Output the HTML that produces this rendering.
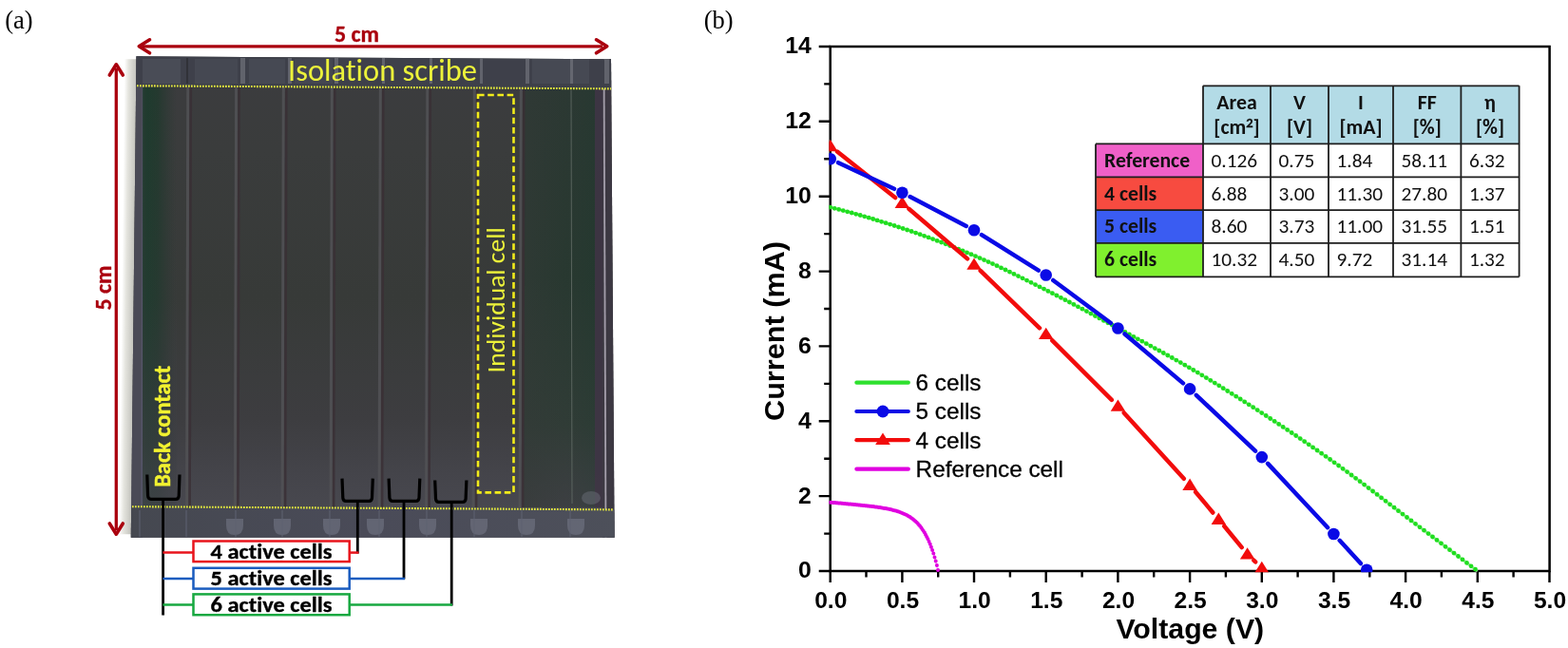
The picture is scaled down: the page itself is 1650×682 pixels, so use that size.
<!DOCTYPE html><html><head><meta charset="utf-8"><title>Figure</title><style>
html,body{margin:0;padding:0;background:#fff;width:1650px;height:682px;overflow:hidden}
svg{display:block} text{font-variant-ligatures:none;font-kerning:normal}
</style></head><body>
<svg width="1650" height="682" viewBox="0 0 1650 682">
<rect width="1650" height="682" fill="#fff"/>
<defs>
<linearGradient id="shadowL" x1="0" x2="1" y1="0" y2="0"><stop offset="0" stop-color="#ffffff"/><stop offset="0.35" stop-color="#e4e4de"/><stop offset="1" stop-color="#c2c2bc"/></linearGradient>
<linearGradient id="greenL" x1="0" x2="1" y1="0" y2="0"><stop offset="0" stop-color="#2e3a34" stop-opacity="0"/><stop offset="0.25" stop-color="#26382e" stop-opacity="0.9"/><stop offset="0.7" stop-color="#2a3630" stop-opacity="0.6"/><stop offset="1" stop-color="#2e3a34" stop-opacity="0"/></linearGradient>
<linearGradient id="greenR" x1="0" x2="1" y1="0" y2="0"><stop offset="0" stop-color="#2c3a33" stop-opacity="0"/><stop offset="0.5" stop-color="#2a3a31" stop-opacity="0.7"/><stop offset="1" stop-color="#2c3a33" stop-opacity="0.2"/></linearGradient>
<linearGradient id="botStrip" x1="0" x2="1" y1="0" y2="0"><stop offset="0" stop-color="#454850"/><stop offset="0.5" stop-color="#4a4b58"/><stop offset="1" stop-color="#4d505a"/></linearGradient>
<linearGradient id="bodyV" x1="0" x2="0" y1="0" y2="1"><stop offset="0" stop-color="#3c3c3f"/><stop offset="0.2" stop-color="#3a3c3c"/><stop offset="0.5" stop-color="#373a38"/><stop offset="0.75" stop-color="#3d3d40"/><stop offset="0.86" stop-color="#44444a"/><stop offset="0.93" stop-color="#48484f"/><stop offset="1" stop-color="#4a4a52"/></linearGradient>
<linearGradient id="greenCol" x1="0" x2="0" y1="0" y2="1"><stop offset="0" stop-color="#243e31"/><stop offset="0.5" stop-color="#284034"/><stop offset="0.8" stop-color="#313e38"/><stop offset="1" stop-color="#3c4044"/></linearGradient>
<linearGradient id="greenRight" x1="0" x2="0" y1="0" y2="1"><stop offset="0" stop-color="#2a3832"/><stop offset="0.45" stop-color="#26382f"/><stop offset="0.8" stop-color="#2f3c36"/><stop offset="1" stop-color="#3e4044"/></linearGradient>
<linearGradient id="greenH" x1="0" x2="1" y1="0" y2="0"><stop offset="0" stop-color="#1f3b2e" stop-opacity="0.8"/><stop offset="0.15" stop-color="#1f3b2e" stop-opacity="1"/><stop offset="0.45" stop-color="#22392e" stop-opacity="0.9"/><stop offset="1" stop-color="#2a3832" stop-opacity="0"/></linearGradient>
<linearGradient id="fadeV" x1="0" x2="0" y1="0" y2="1"><stop offset="0" stop-color="#3c3d40" stop-opacity="0"/><stop offset="0.5" stop-color="#3c3d40" stop-opacity="0.1"/><stop offset="0.85" stop-color="#3e3f44" stop-opacity="0.6"/><stop offset="1" stop-color="#44454c" stop-opacity="0.8"/></linearGradient>
<linearGradient id="greenRH" x1="0" x2="1" y1="0" y2="0"><stop offset="0" stop-color="#353a38" stop-opacity="0.55"/><stop offset="0.6" stop-color="#353a38" stop-opacity="0.15"/><stop offset="1" stop-color="#1f3a30" stop-opacity="0.2"/></linearGradient>
<clipPath id="panelClip"><polygon points="143.5,59.3 643,62.2 646.6,565.7 137.8,565.7"/></clipPath>
</defs>
<g transform="translate(143.5 59.3) skewX(-0.645)"><rect x="-12.5" y="3" width="13" height="500" fill="url(#shadowL)"/></g>
<g clip-path="url(#panelClip)">
<rect x="130" y="55" width="525" height="515" fill="url(#bodyV)"/>
<rect x="130" y="55" width="20" height="515" fill="#4a4a56"/>
<line x1="150.5" y1="60" x2="149" y2="566" stroke="#56566a" stroke-width="1.5"/>
<rect x="150" y="92" width="36" height="442" fill="url(#greenH)"/>
<rect x="150" y="92" width="36" height="442" fill="url(#fadeV)"/>
<rect x="550" y="93" width="76" height="441" fill="url(#greenRight)"/>
<rect x="550" y="93" width="76" height="441" fill="url(#greenRH)"/>
<rect x="626" y="93" width="8.5" height="441" fill="#3d3444" opacity="0.9"/>
<rect x="634" y="55" width="20" height="515" fill="#3c3842"/>
<line x1="635.5" y1="62" x2="637.5" y2="566" stroke="#a49eab" stroke-width="1.8"/>
<line x1="601" y1="95" x2="602" y2="530" stroke="#66706a" stroke-width="1" opacity="0.8"/>
<polygon points="130,55 655,55 655,93.5 130,90.3" fill="#3e404a"/>
<rect x="150" y="62" width="40" height="26" fill="#6a6e7a" opacity="0.25"/>
<rect x="205" y="62" width="45" height="26" fill="#6a6e7a" opacity="0.18"/>
<rect x="262" y="62" width="38" height="26" fill="#6a6e7a" opacity="0.2"/>
<rect x="310" y="62" width="40" height="26" fill="#6a6e7a" opacity="0.15"/>
<rect x="560" y="62" width="60" height="26" fill="#6a6e7a" opacity="0.2"/>
<rect x="253" y="61" width="5" height="27" fill="#7a7c84" opacity="0.6"/>
<rect x="303" y="61" width="4" height="27" fill="#7a7c84" opacity="0.6"/>
<rect x="352" y="61" width="4" height="27" fill="#7a7c84" opacity="0.6"/>
<rect x="402" y="61" width="3" height="27" fill="#7a7c84" opacity="0.6"/>
<rect x="452" y="61" width="3" height="27" fill="#7a7c84" opacity="0.6"/>
<rect x="505" y="61" width="3" height="27" fill="#7a7c84" opacity="0.6"/>
<rect x="553" y="61" width="4" height="27" fill="#7a7c84" opacity="0.6"/>
<rect x="600" y="61" width="3" height="27" fill="#7a7c84" opacity="0.6"/>
<rect x="636" y="61" width="5" height="27" fill="#7a7c84" opacity="0.6"/>
<rect x="196" y="61" width="2" height="27" fill="#2c2c30" opacity="0.7"/>
<polygon points="130,533.5 655,536.5 655,570 130,570" fill="url(#botStrip)"/>
<path d="M238,546 h18 v7 q0,10 -9,10 q-9,0 -9,-10 z" fill="#737685" opacity="0.6"/>
<path d="M288,546 h18 v7 q0,10 -9,10 q-9,0 -9,-10 z" fill="#737685" opacity="0.6"/>
<path d="M340,546 h18 v7 q0,10 -9,10 q-9,0 -9,-10 z" fill="#737685" opacity="0.6"/>
<path d="M386,546 h18 v7 q0,10 -9,10 q-9,0 -9,-10 z" fill="#737685" opacity="0.6"/>
<path d="M441,546 h18 v7 q0,10 -9,10 q-9,0 -9,-10 z" fill="#737685" opacity="0.6"/>
<path d="M495,546 h18 v7 q0,10 -9,10 q-9,0 -9,-10 z" fill="#737685" opacity="0.6"/>
<path d="M545,546 h18 v7 q0,10 -9,10 q-9,0 -9,-10 z" fill="#737685" opacity="0.6"/>
<path d="M597,546 h18 v7 q0,10 -9,10 q-9,0 -9,-10 z" fill="#737685" opacity="0.6"/>
<line x1="147" y1="537" x2="147" y2="565" stroke="#5f6270" stroke-width="1.5" opacity="0.7"/>
<line x1="196" y1="537" x2="196" y2="565" stroke="#5f6270" stroke-width="1.5" opacity="0.7"/>
<line x1="248" y1="537" x2="248" y2="565" stroke="#5f6270" stroke-width="1.5" opacity="0.7"/>
<line x1="297" y1="537" x2="297" y2="565" stroke="#5f6270" stroke-width="1.5" opacity="0.7"/>
<line x1="347" y1="537" x2="347" y2="565" stroke="#5f6270" stroke-width="1.5" opacity="0.7"/>
<line x1="399" y1="537" x2="399" y2="565" stroke="#5f6270" stroke-width="1.5" opacity="0.7"/>
<line x1="449" y1="537" x2="449" y2="565" stroke="#5f6270" stroke-width="1.5" opacity="0.7"/>
<line x1="499" y1="537" x2="499" y2="565" stroke="#5f6270" stroke-width="1.5" opacity="0.7"/>
<line x1="549" y1="537" x2="549" y2="565" stroke="#5f6270" stroke-width="1.5" opacity="0.7"/>
<line x1="600" y1="537" x2="600" y2="565" stroke="#5f6270" stroke-width="1.5" opacity="0.7"/>
<ellipse cx="622" cy="524" rx="10" ry="7" fill="#6a6e78" opacity="0.5"/>
<line x1="197.8" y1="92" x2="196.6" y2="534" stroke="#515155" stroke-width="3" opacity="0.9"/>
<line x1="200.8" y1="92" x2="199.6" y2="534" stroke="#3a2f35" stroke-width="2.6" opacity="0.8"/>
<line x1="248.6" y1="92" x2="247.4" y2="534" stroke="#515155" stroke-width="3" opacity="0.9"/>
<line x1="251.6" y1="92" x2="250.4" y2="534" stroke="#3a2f35" stroke-width="2.6" opacity="0.8"/>
<line x1="298.3" y1="92" x2="297.1" y2="534" stroke="#515155" stroke-width="3" opacity="0.9"/>
<line x1="301.3" y1="92" x2="300.1" y2="534" stroke="#3a2f35" stroke-width="2.6" opacity="0.8"/>
<line x1="349.3" y1="92" x2="348.1" y2="534" stroke="#515155" stroke-width="3" opacity="0.9"/>
<line x1="352.3" y1="92" x2="351.1" y2="534" stroke="#3a2f35" stroke-width="2.6" opacity="0.8"/>
<line x1="400.3" y1="92" x2="399.1" y2="534" stroke="#515155" stroke-width="3" opacity="0.9"/>
<line x1="403.3" y1="92" x2="402.1" y2="534" stroke="#3a2f35" stroke-width="2.6" opacity="0.8"/>
<line x1="449.8" y1="92" x2="448.6" y2="534" stroke="#515155" stroke-width="3" opacity="0.9"/>
<line x1="452.8" y1="92" x2="451.6" y2="534" stroke="#3a2f35" stroke-width="2.6" opacity="0.8"/>
<line x1="499.3" y1="92" x2="498.1" y2="534" stroke="#515155" stroke-width="3" opacity="0.9"/>
<line x1="502.3" y1="92" x2="501.1" y2="534" stroke="#3a2f35" stroke-width="2.6" opacity="0.8"/>
<line x1="548.3" y1="92" x2="547.1" y2="534" stroke="#515155" stroke-width="3" opacity="0.9"/>
<line x1="551.3" y1="92" x2="550.1" y2="534" stroke="#3a2f35" stroke-width="2.6" opacity="0.8"/>
</g>
<line x1="144" y1="90.3" x2="643" y2="93.4" stroke="#e6ec3c" stroke-width="2.1" stroke-dasharray="1.7 1.3"/>
<line x1="139" y1="533.2" x2="646" y2="536.4" stroke="#e6ec3c" stroke-width="2.1" stroke-dasharray="1.7 1.3"/>
<rect x="503" y="100" width="37.5" height="418.4" fill="none" stroke="#f2ec1a" stroke-width="2.6" stroke-dasharray="6.6 3.6"/>
<text x="303" y="85" font-family="Carlito, Calibri, 'Liberation Sans', sans-serif" font-size="33" fill="#ecf23a" textLength="199" lengthAdjust="spacingAndGlyphs">Isolation scribe</text>
<text transform="translate(531,392.6) rotate(-90)" x="0" y="0" font-family="Carlito, Calibri, 'Liberation Sans', sans-serif" font-size="27.5" fill="#ecf23a" textLength="153.4" lengthAdjust="spacingAndGlyphs">Individual cell</text>
<text transform="translate(179,512.8) rotate(-90)" x="0" y="0" font-family="Carlito, Calibri, 'Liberation Sans', sans-serif" font-size="24.4" font-weight="bold" fill="#f2f230" stroke="#f2f230" stroke-width="0.4" textLength="128" lengthAdjust="spacingAndGlyphs">Back contact</text>
<line x1="150" y1="48.8" x2="634" y2="48.8" stroke="#aa000e" stroke-width="3.3"/>
<polyline points="157.5,41.8 146.3,48.8 157.5,55.8" fill="none" stroke="#aa000e" stroke-width="3.6" stroke-linecap="round" stroke-linejoin="round"/>
<polyline points="627.5,41.8 638.7,48.8 627.5,55.8" fill="none" stroke="#aa000e" stroke-width="3.6" stroke-linecap="round" stroke-linejoin="round"/>
<line x1="122.3" y1="72" x2="122.3" y2="558" stroke="#aa000e" stroke-width="3.3"/>
<polyline points="115.3,79 122.3,67.8 129.3,79" fill="none" stroke="#aa000e" stroke-width="3.6" stroke-linecap="round" stroke-linejoin="round"/>
<polyline points="115.3,551 122.3,562.2 129.3,551" fill="none" stroke="#aa000e" stroke-width="3.6" stroke-linecap="round" stroke-linejoin="round"/>
<text x="352" y="43.5" font-family="Carlito, Calibri, 'Liberation Sans', sans-serif" font-size="24" font-weight="bold" fill="#aa000e" stroke="#aa000e" stroke-width="0.35" textLength="47" lengthAdjust="spacingAndGlyphs">5 cm</text>
<text transform="translate(116.8,326.5) rotate(-90)" font-family="Carlito, Calibri, 'Liberation Sans', sans-serif" font-size="24" font-weight="bold" fill="#aa000e" stroke="#aa000e" stroke-width="0.35" textLength="47" lengthAdjust="spacingAndGlyphs">5 cm</text>
<path d="M154.8,499.5 L155.60000000000002,521.8 Q155.8,525.3 158.8,525.3 L185,525.3 Q188,525.3 188.2,521.8 L189,499.5" fill="none" stroke="#000" stroke-width="3.2" stroke-linejoin="round"/>
<path d="M360,503.6 L360.8,523.9 Q361,527.4 364,527.4 L388.3,527.4 Q391.3,527.4 391.5,523.9 L392.3,503.6" fill="none" stroke="#000" stroke-width="3.2" stroke-linejoin="round"/>
<path d="M409.1,503.6 L409.90000000000003,523.9 Q410.1,527.4 413.1,527.4 L437.8,527.4 Q440.8,527.4 441.0,523.9 L441.8,503.6" fill="none" stroke="#000" stroke-width="3.2" stroke-linejoin="round"/>
<path d="M457.7,505.5 L458.5,524.9 Q458.7,528.4 461.7,528.4 L486.9,528.4 Q489.9,528.4 490.09999999999997,524.9 L490.9,505.5" fill="none" stroke="#000" stroke-width="3.2" stroke-linejoin="round"/>
<line x1="171.6" y1="524" x2="171.6" y2="647.5" stroke="#000" stroke-width="2.8"/>
<line x1="376.3" y1="526.8" x2="376.3" y2="582.5" stroke="#000" stroke-width="2.8"/>
<line x1="425" y1="527.5" x2="425" y2="609.5" stroke="#000" stroke-width="2.8"/>
<line x1="475.2" y1="529.5" x2="475.2" y2="637.5" stroke="#000" stroke-width="2.8"/>
<line x1="171.4" y1="581.6" x2="203.5" y2="581.6" stroke="#e8141c" stroke-width="2.5"/>
<line x1="367.7" y1="581.6" x2="377.5" y2="581.6" stroke="#e8141c" stroke-width="2.5"/>
<line x1="171.4" y1="609.1" x2="203.5" y2="609.1" stroke="#1a5cbf" stroke-width="2.5"/>
<line x1="367.7" y1="609.1" x2="426" y2="609.1" stroke="#1a5cbf" stroke-width="2.5"/>
<line x1="171.4" y1="636.6" x2="203.5" y2="636.6" stroke="#17a840" stroke-width="2.5"/>
<line x1="367.7" y1="636.6" x2="476" y2="636.6" stroke="#17a840" stroke-width="2.5"/>
<rect x="203.5" y="569.5" width="164.2" height="21.6" fill="#fff" stroke="#e8141c" stroke-width="2.5"/>
<text x="221.6" y="587.7" font-family="Carlito, Calibri, 'Liberation Sans', sans-serif" font-size="23" font-weight="bold" fill="#000" stroke="#000" stroke-width="0.35" textLength="127.8" lengthAdjust="spacingAndGlyphs">4 active cells</text>
<rect x="203.5" y="597.8" width="164.2" height="21.8" fill="#fff" stroke="#1a5cbf" stroke-width="2.5"/>
<text x="221.6" y="616.2" font-family="Carlito, Calibri, 'Liberation Sans', sans-serif" font-size="23" font-weight="bold" fill="#000" stroke="#000" stroke-width="0.35" textLength="127.8" lengthAdjust="spacingAndGlyphs">5 active cells</text>
<rect x="203.5" y="625.4" width="164.2" height="21.8" fill="#fff" stroke="#17a840" stroke-width="2.5"/>
<text x="221.6" y="643.8" font-family="Carlito, Calibri, 'Liberation Sans', sans-serif" font-size="23" font-weight="bold" fill="#000" stroke="#000" stroke-width="0.35" textLength="127.8" lengthAdjust="spacingAndGlyphs">6 active cells</text>
<text x="5.2" y="29.8" font-family="'Liberation Serif', 'Times New Roman', serif" font-size="26.5" fill="#000">(a)</text>
<text x="740.7" y="29.8" font-family="'Liberation Serif', 'Times New Roman', serif" font-size="26.5" fill="#000">(b)</text>
<rect x="873.7" y="49" width="756.9" height="552" fill="none" stroke="#000" stroke-width="2.5"/>
<path d="M873.7,601 v12 M911.5,601 v6.5 M949.4,601 v12 M987.2,601 v6.5 M1025.0,601 v12 M1062.9,601 v6.5 M1100.7,601 v12 M1138.6,601 v6.5 M1176.4,601 v12 M1214.2,601 v6.5 M1252.1,601 v12 M1289.9,601 v6.5 M1327.8,601 v12 M1365.6,601 v6.5 M1403.4,601 v12 M1441.3,601 v6.5 M1479.1,601 v12 M1516.9,601 v6.5 M1554.8,601 v12 M1592.6,601 v6.5 M1630.5,601 v12 M873.7,601.0 h-12 M873.7,561.6 h-6.5 M873.7,522.1 h-12 M873.7,482.7 h-6.5 M873.7,443.3 h-12 M873.7,403.9 h-6.5 M873.7,364.4 h-12 M873.7,325.0 h-6.5 M873.7,285.6 h-12 M873.7,246.1 h-6.5 M873.7,206.7 h-12 M873.7,167.3 h-6.5 M873.7,127.8 h-12 M873.7,88.4 h-6.5 M873.7,49.0 h-12" stroke="#000" stroke-width="2.4" fill="none"/>
<clipPath id="plotClip"><rect x="872.4" y="47" width="760" height="555.2"/></clipPath>
<g clip-path="url(#plotClip)">
<polyline points="873.7,218.1 879.4,219.6 885.1,221.1 890.9,222.6 896.6,224.1 902.3,225.7 908.0,227.4 913.8,229.0 919.5,230.8 925.2,232.5 930.9,234.3 936.7,236.1 942.4,237.9 948.1,239.8 953.8,241.7 959.5,243.7 965.3,245.6 971.0,247.7 976.7,249.8 982.4,251.9 988.2,254.1 993.9,256.3 999.6,258.5 1005.3,260.8 1011.1,263.2 1016.8,265.5 1022.5,267.9 1028.2,270.4 1034.0,272.9 1039.7,275.4 1045.4,278.1 1051.1,280.7 1056.8,283.5 1062.6,286.2 1068.3,289.0 1074.0,291.9 1079.7,294.7 1085.5,297.6 1091.2,300.5 1096.9,303.4 1102.6,306.2 1108.4,309.2 1114.1,312.1 1119.8,315.1 1125.5,318.1 1131.2,321.1 1137.0,324.2 1142.7,327.2 1148.4,330.3 1154.1,333.4 1159.9,336.5 1165.6,339.6 1171.3,342.7 1177.0,345.8 1182.8,348.9 1188.5,352.0 1194.2,355.1 1199.9,358.2 1205.7,361.3 1211.4,364.4 1217.1,367.5 1222.8,370.7 1228.5,373.9 1234.3,377.1 1240.0,380.3 1245.7,383.6 1251.4,386.9 1257.2,390.3 1262.9,393.7 1268.6,397.2 1274.3,400.6 1280.1,404.2 1285.8,407.7 1291.5,411.3 1297.2,414.9 1302.9,418.6 1308.7,422.2 1314.4,425.9 1320.1,429.6 1325.8,433.4 1331.6,437.1 1337.3,440.9 1343.0,444.6 1348.7,448.5 1354.5,452.3 1360.2,456.2 1365.9,460.0 1371.6,464.0 1377.4,467.9 1383.1,471.9 1388.8,475.9 1394.5,479.9 1400.2,484.0 1406.0,488.1 1411.7,492.3 1417.4,496.5 1423.1,500.7 1428.9,505.0 1434.6,509.4 1440.3,513.7 1446.0,518.1 1451.8,522.5 1457.5,526.9 1463.2,531.3 1468.9,535.7 1474.6,540.0 1480.4,544.4 1486.1,548.7 1491.8,553.1 1497.5,557.4 1503.3,561.8 1509.0,566.1 1514.7,570.5 1520.4,574.8 1526.2,579.2 1531.9,583.5 1537.6,587.9 1543.3,592.3 1549.1,596.6 1554.8,601.0" fill="none" stroke="#a0eea0" stroke-width="3"/>
<path d="M873.7,218.1h0M878.2,219.3h0M882.7,220.4h0M887.2,221.6h0M891.7,222.8h0M896.2,224.0h0M900.7,225.3h0M905.2,226.5h0M909.7,227.8h0M914.2,229.2h0M918.7,230.5h0M923.1,231.9h0M927.6,233.3h0M932.1,234.7h0M936.6,236.1h0M941.1,237.5h0M945.6,239.0h0M950.1,240.5h0M954.6,242.0h0M959.1,243.5h0M963.6,245.1h0M968.1,246.7h0M972.6,248.3h0M977.1,249.9h0M981.6,251.6h0M986.1,253.3h0M990.6,255.0h0M995.1,256.8h0M999.6,258.5h0M1004.1,260.3h0M1008.6,262.1h0M1013.0,264.0h0M1017.5,265.8h0M1022.0,267.7h0M1026.5,269.6h0M1031.0,271.6h0M1035.5,273.6h0M1040.0,275.6h0M1044.5,277.6h0M1049.0,279.7h0M1053.5,281.9h0M1058.0,284.0h0M1062.5,286.2h0M1067.0,288.4h0M1071.5,290.6h0M1076.0,292.8h0M1080.5,295.1h0M1085.0,297.3h0M1089.5,299.6h0M1094.0,301.9h0M1098.5,304.1h0M1102.9,306.4h0M1107.4,308.7h0M1111.9,311.0h0M1116.4,313.3h0M1120.9,315.7h0M1125.4,318.0h0M1129.9,320.4h0M1134.4,322.8h0M1138.9,325.2h0M1143.4,327.6h0M1147.9,330.1h0M1152.4,332.5h0M1156.9,334.9h0M1161.4,337.4h0M1165.9,339.8h0M1170.4,342.2h0M1174.9,344.7h0M1179.4,347.1h0M1183.9,349.5h0M1188.4,352.0h0M1192.9,354.4h0M1197.3,356.8h0M1201.8,359.2h0M1206.3,361.7h0M1210.8,364.1h0M1215.3,366.6h0M1219.8,369.0h0M1224.3,371.5h0M1228.8,374.0h0M1233.3,376.5h0M1237.8,379.1h0M1242.3,381.6h0M1246.8,384.2h0M1251.3,386.8h0M1255.8,389.5h0M1260.3,392.1h0M1264.8,394.8h0M1269.3,397.6h0M1273.8,400.3h0M1278.3,403.1h0M1282.8,405.8h0M1287.2,408.7h0M1291.7,411.5h0M1296.2,414.3h0M1300.7,417.2h0M1305.2,420.0h0M1309.7,422.9h0M1314.2,425.8h0M1318.7,428.7h0M1323.2,431.6h0M1327.7,434.6h0M1332.2,437.5h0M1336.7,440.5h0M1341.2,443.4h0M1345.7,446.4h0M1350.2,449.4h0M1354.7,452.4h0M1359.2,455.5h0M1363.7,458.5h0M1368.2,461.6h0M1372.7,464.7h0M1377.2,467.8h0M1381.6,470.9h0M1386.1,474.0h0M1390.6,477.2h0M1395.1,480.3h0M1399.6,483.5h0M1404.1,486.8h0M1408.6,490.0h0M1413.1,493.3h0M1417.6,496.6h0M1422.1,500.0h0M1426.6,503.3h0M1431.1,506.7h0M1435.6,510.1h0M1440.1,513.6h0M1444.6,517.0h0M1449.1,520.4h0M1453.6,523.9h0M1458.1,527.3h0M1462.6,530.8h0M1467.1,534.2h0M1471.5,537.7h0M1476.0,541.1h0M1480.5,544.5h0M1485.0,547.9h0M1489.5,551.3h0M1494.0,554.8h0M1498.5,558.2h0M1503.0,561.6h0M1507.5,565.0h0M1512.0,568.4h0M1516.5,571.8h0M1521.0,575.3h0M1525.5,578.7h0M1530.0,582.1h0M1534.5,585.5h0M1539.0,588.9h0M1543.5,592.4h0M1548.0,595.8h0M1552.5,599.2h0" fill="none" stroke="#20de20" stroke-width="4.8" stroke-linecap="round"/>
<polyline points="873.7,528.7 875.1,528.8 876.6,528.9 878.0,529.0 879.5,529.2 880.9,529.3 882.3,529.4 883.8,529.6 885.2,529.7 886.6,529.8 888.1,530.0 889.5,530.1 891.0,530.2 892.4,530.4 893.8,530.5 895.3,530.6 896.7,530.8 898.1,530.9 899.6,531.1 901.0,531.2 902.5,531.3 903.9,531.5 905.3,531.6 906.8,531.8 908.2,531.9 909.6,532.1 911.1,532.3 912.5,532.4 914.0,532.6 915.4,532.8 916.8,532.9 918.3,533.1 919.7,533.3 921.1,533.5 922.6,533.7 924.0,533.9 925.5,534.1 926.9,534.3 928.3,534.5 929.8,534.8 931.2,535.0 932.6,535.3 934.1,535.6 935.5,535.9 937.0,536.2 938.4,536.5 939.8,536.9 941.3,537.3 942.7,537.7 944.1,538.1 945.6,538.6 947.0,539.1 948.5,539.6 949.9,540.2 951.3,540.8 952.8,541.5 954.2,542.2 955.6,543.0 957.1,543.9 958.5,544.8 960.0,545.8 961.4,547.0 962.8,548.2 964.3,549.5 965.7,551.0 967.2,552.6 968.6,554.3 970.0,556.3 971.5,558.4 972.9,560.7 974.3,563.2 975.8,566.0 977.2,569.1 978.7,572.4 980.1,576.1 981.5,580.2 983.0,584.7 984.4,589.6 985.8,595.0 987.3,601.0" fill="none" stroke="#f6c8f6" stroke-width="2"/>
<path d="M873.7,528.7h0M874.9,528.8h0M876.1,528.9h0M877.2,529.0h0M878.4,529.1h0M879.6,529.2h0M880.8,529.3h0M882.0,529.4h0M883.1,529.5h0M884.3,529.6h0M885.5,529.7h0M886.7,529.8h0M887.9,529.9h0M889.0,530.1h0M890.2,530.2h0M891.4,530.3h0M892.6,530.4h0M893.8,530.5h0M894.9,530.6h0M896.1,530.7h0M897.3,530.8h0M898.5,531.0h0M899.7,531.1h0M900.9,531.2h0M902.0,531.3h0M903.2,531.4h0M904.4,531.5h0M905.6,531.7h0M906.8,531.8h0M907.9,531.9h0M909.1,532.0h0M910.3,532.2h0M911.5,532.3h0M912.7,532.4h0M913.8,532.6h0M915.0,532.7h0M916.2,532.8h0M917.4,533.0h0M918.6,533.1h0M919.7,533.3h0M920.9,533.4h0M922.1,533.6h0M923.3,533.8h0M924.5,533.9h0M925.6,534.1h0M926.8,534.3h0M928.0,534.5h0M929.2,534.7h0M930.4,534.9h0M931.5,535.1h0M932.7,535.3h0M933.9,535.5h0M935.1,535.8h0M936.3,536.0h0M937.4,536.3h0M938.6,536.6h0M939.8,536.9h0M941.0,537.2h0M942.2,537.5h0M943.4,537.8h0M944.5,538.2h0M945.7,538.6h0M946.9,539.0h0M948.1,539.4h0M949.3,539.9h0M950.4,540.4h0M951.6,540.9h0M952.8,541.5h0M954.0,542.1h0M955.2,542.7h0M956.3,543.4h0M957.5,544.1h0M958.7,544.9h0M959.9,545.8h0M961.1,546.7h0M962.2,547.7h0M963.4,548.7h0M964.6,549.8h0M965.8,551.1h0M967.0,552.4h0M968.1,553.8h0M969.3,555.3h0M970.5,556.9h0M971.7,558.7h0M972.9,560.6h0M974.0,562.7h0M975.2,564.9h0M976.4,567.3h0M977.6,569.9h0M978.8,572.7h0M979.9,575.8h0M981.1,579.0h0M982.3,582.6h0M983.5,586.4h0M984.7,590.6h0M985.9,595.1h0M987.0,599.9h0" fill="none" stroke="#e000e0" stroke-width="4" stroke-linecap="round"/>
<path d="M881.0,159.6L942.1,208.0M956.4,219.8L1018.0,272.4M1031.7,284.9L1094.0,345.3M1107.3,358.4L1169.8,420.9M1182.7,434.4L1245.8,503.8M1258.1,517.8L1276.3,539.5M1288.3,553.8L1306.7,576.1M1319.3,589.7L1321.1,591.4" fill="none" stroke="#f20c0c" stroke-width="4.5" stroke-linecap="round"/>
<polygon points="866.0,159.2 881.5,159.2 873.7,146.8" fill="#f20c0c"/>
<polygon points="941.6,219.1 957.1,219.1 949.4,206.7" fill="#f20c0c"/>
<polygon points="1017.3,283.8 1032.8,283.8 1025.0,271.4" fill="#f20c0c"/>
<polygon points="1093.0,357.1 1108.5,357.1 1100.7,344.7" fill="#f20c0c"/>
<polygon points="1168.7,432.8 1184.2,432.8 1176.4,420.4" fill="#f20c0c"/>
<polygon points="1244.3,516.0 1259.8,516.0 1252.1,503.6" fill="#f20c0c"/>
<polygon points="1274.6,551.9 1290.1,551.9 1282.3,539.5" fill="#f20c0c"/>
<polygon points="1304.9,588.6 1320.4,588.6 1312.6,576.2" fill="#f20c0c"/>
<polygon points="1320.0,603.1 1335.5,603.1 1327.8,590.7" fill="#f20c0c"/>
<path d="M882.1,171.2L941.0,198.8M957.6,207.1L1016.8,237.9M1032.9,247.1L1092.8,284.6M1108.2,295.0L1168.9,340.0M1183.5,351.5L1245.0,403.4M1258.8,415.8L1321.0,474.7M1334.1,487.9L1397.1,555.2M1409.7,568.8L1431.9,593.0" fill="none" stroke="#0a0ae6" stroke-width="4.5" stroke-linecap="round"/>
<circle cx="873.7" cy="167.3" r="6.3" fill="#0a0ae6"/>
<circle cx="949.4" cy="202.8" r="6.3" fill="#0a0ae6"/>
<circle cx="1025.0" cy="242.2" r="6.3" fill="#0a0ae6"/>
<circle cx="1100.7" cy="289.5" r="6.3" fill="#0a0ae6"/>
<circle cx="1176.4" cy="345.5" r="6.3" fill="#0a0ae6"/>
<circle cx="1252.1" cy="409.4" r="6.3" fill="#0a0ae6"/>
<circle cx="1327.8" cy="481.1" r="6.3" fill="#0a0ae6"/>
<circle cx="1403.4" cy="562.0" r="6.3" fill="#0a0ae6"/>
<circle cx="1438.2" cy="599.8" r="6.3" fill="#0a0ae6"/>
</g>
<text x="874.3" y="639.6" text-anchor="middle" font-family="'Liberation Sans', Arial, sans-serif" font-weight="bold" font-size="24.6" fill="#000">0.0</text>
<text x="950.0" y="639.6" text-anchor="middle" font-family="'Liberation Sans', Arial, sans-serif" font-weight="bold" font-size="24.6" fill="#000">0.5</text>
<text x="1025.6" y="639.6" text-anchor="middle" font-family="'Liberation Sans', Arial, sans-serif" font-weight="bold" font-size="24.6" fill="#000">1.0</text>
<text x="1101.3" y="639.6" text-anchor="middle" font-family="'Liberation Sans', Arial, sans-serif" font-weight="bold" font-size="24.6" fill="#000">1.5</text>
<text x="1177.0" y="639.6" text-anchor="middle" font-family="'Liberation Sans', Arial, sans-serif" font-weight="bold" font-size="24.6" fill="#000">2.0</text>
<text x="1252.7" y="639.6" text-anchor="middle" font-family="'Liberation Sans', Arial, sans-serif" font-weight="bold" font-size="24.6" fill="#000">2.5</text>
<text x="1328.3" y="639.6" text-anchor="middle" font-family="'Liberation Sans', Arial, sans-serif" font-weight="bold" font-size="24.6" fill="#000">3.0</text>
<text x="1404.0" y="639.6" text-anchor="middle" font-family="'Liberation Sans', Arial, sans-serif" font-weight="bold" font-size="24.6" fill="#000">3.5</text>
<text x="1479.7" y="639.6" text-anchor="middle" font-family="'Liberation Sans', Arial, sans-serif" font-weight="bold" font-size="24.6" fill="#000">4.0</text>
<text x="1555.4" y="639.6" text-anchor="middle" font-family="'Liberation Sans', Arial, sans-serif" font-weight="bold" font-size="24.6" fill="#000">4.5</text>
<text x="1631.0" y="639.6" text-anchor="middle" font-family="'Liberation Sans', Arial, sans-serif" font-weight="bold" font-size="24.6" fill="#000">5.0</text>
<text x="853.8" y="608.4" text-anchor="end" font-family="'Liberation Sans', Arial, sans-serif" font-weight="bold" font-size="24.8" fill="#000">0</text>
<text x="853.8" y="529.5" text-anchor="end" font-family="'Liberation Sans', Arial, sans-serif" font-weight="bold" font-size="24.8" fill="#000">2</text>
<text x="853.8" y="450.7" text-anchor="end" font-family="'Liberation Sans', Arial, sans-serif" font-weight="bold" font-size="24.8" fill="#000">4</text>
<text x="853.8" y="371.8" text-anchor="end" font-family="'Liberation Sans', Arial, sans-serif" font-weight="bold" font-size="24.8" fill="#000">6</text>
<text x="853.8" y="293.0" text-anchor="end" font-family="'Liberation Sans', Arial, sans-serif" font-weight="bold" font-size="24.8" fill="#000">8</text>
<text x="853.8" y="214.1" text-anchor="end" font-family="'Liberation Sans', Arial, sans-serif" font-weight="bold" font-size="24.8" fill="#000">10</text>
<text x="853.8" y="135.2" text-anchor="end" font-family="'Liberation Sans', Arial, sans-serif" font-weight="bold" font-size="24.8" fill="#000">12</text>
<text x="853.8" y="56.4" text-anchor="end" font-family="'Liberation Sans', Arial, sans-serif" font-weight="bold" font-size="24.8" fill="#000">14</text>
<text x="1174.4" y="672.2" font-family="'Liberation Sans', Arial, sans-serif" font-weight="bold" font-size="30.3" fill="#000" textLength="155.8" lengthAdjust="spacingAndGlyphs">Voltage (V)</text>
<text transform="translate(824.5,443) rotate(-90)" font-family="'Liberation Sans', Arial, sans-serif" font-weight="bold" font-size="30.3" fill="#000" textLength="189" lengthAdjust="spacingAndGlyphs">Current (mA)</text>
<line x1="901.4" y1="402.7" x2="955.8" y2="402.7" stroke="#2ee02e" stroke-width="4.2" stroke-linecap="round"/>
<line x1="901.4" y1="433" x2="955.8" y2="433" stroke="#0a0ae6" stroke-width="4.2" stroke-linecap="round"/>
<circle cx="929" cy="433" r="6.5" fill="#0a0ae6"/>
<line x1="901.4" y1="463.2" x2="955.8" y2="463.2" stroke="#f20c0c" stroke-width="4.2" stroke-linecap="round"/>
<polygon points="921.2,468.0 936.8,468.0 929.0,455.6" fill="#f20c0c"/>
<line x1="901.4" y1="493.7" x2="955.8" y2="493.7" stroke="#e000e0" stroke-width="4.2" stroke-linecap="round"/>
<text x="963.6" y="410.9" font-family="'Liberation Sans', Arial, sans-serif" font-size="24.3" fill="#000" stroke="#000" stroke-width="0.3">6 cells</text>
<text x="963.6" y="441.2" font-family="'Liberation Sans', Arial, sans-serif" font-size="24.3" fill="#000" stroke="#000" stroke-width="0.3">5 cells</text>
<text x="963.6" y="471.6" font-family="'Liberation Sans', Arial, sans-serif" font-size="24.3" fill="#000" stroke="#000" stroke-width="0.3">4 cells</text>
<text x="963.6" y="501.9" font-family="'Liberation Sans', Arial, sans-serif" font-size="24.3" fill="#000" stroke="#000" stroke-width="0.3">Reference cell</text>
<rect x="1266" y="90.3" width="332.5999999999999" height="61.1" fill="#b3dbe6"/>
<rect x="1153" y="151.4" width="113" height="35.0" fill="#f060c8"/>
<rect x="1153" y="186.4" width="113" height="34.8" fill="#f74b40"/>
<rect x="1153" y="221.2" width="113" height="34.6" fill="#3a5cf2"/>
<rect x="1153" y="255.8" width="113" height="35.5" fill="#80f02e"/>
<path d="M1266,90.3 H1598.6 M1153,151.4 H1598.6 M1153,186.4 H1598.6 M1153,221.2 H1598.6 M1153,255.8 H1598.6 M1153,291.3 H1598.6 M1153,151.4 V291.3 M1266,90.3 V291.3 M1337,90.3 V291.3 M1398,90.3 V291.3 M1466,90.3 V291.3 M1537.4,90.3 V291.3 M1598.6,90.3 V291.3" stroke="#1e1e1e" stroke-width="1.8" fill="none"/>
<text x="1301.5" y="114.8" text-anchor="middle" font-family="Carlito, Calibri, 'Liberation Sans', sans-serif" font-weight="bold" font-size="21.8" fill="#111" textLength="42.45" lengthAdjust="spacingAndGlyphs">Area</text>
<text x="1301.5" y="141.4" text-anchor="middle" font-family="Carlito, Calibri, 'Liberation Sans', sans-serif" font-weight="bold" font-size="21.8" fill="#111">[cm<tspan font-size="14.5" dy="-7.8" stroke="#111" stroke-width="0.3">2</tspan><tspan dy="7.8">]</tspan></text>
<text x="1367.5" y="114.8" text-anchor="middle" font-family="Carlito, Calibri, 'Liberation Sans', sans-serif" font-weight="bold" font-size="21.8" fill="#111" textLength="12.89" lengthAdjust="spacingAndGlyphs">V</text>
<text x="1367.5" y="141.4" text-anchor="middle" font-family="Carlito, Calibri, 'Liberation Sans', sans-serif" font-weight="bold" font-size="21.8" fill="#111">[V]</text>
<text x="1432.0" y="114.8" text-anchor="middle" font-family="Carlito, Calibri, 'Liberation Sans', sans-serif" font-weight="bold" font-size="21.8" fill="#111" textLength="5.81" lengthAdjust="spacingAndGlyphs">I</text>
<text x="1432.0" y="141.4" text-anchor="middle" font-family="Carlito, Calibri, 'Liberation Sans', sans-serif" font-weight="bold" font-size="21.8" fill="#111">[mA]</text>
<text x="1501.7" y="114.8" text-anchor="middle" font-family="Carlito, Calibri, 'Liberation Sans', sans-serif" font-weight="bold" font-size="21.8" fill="#111" textLength="20.02" lengthAdjust="spacingAndGlyphs">FF</text>
<text x="1501.7" y="141.4" text-anchor="middle" font-family="Carlito, Calibri, 'Liberation Sans', sans-serif" font-weight="bold" font-size="21.8" fill="#111">[%]</text>
<text x="1568.0" y="114.8" text-anchor="middle" font-family="Carlito, Calibri, 'Liberation Sans', sans-serif" font-weight="bold" font-size="21.8" fill="#111" textLength="11.86" lengthAdjust="spacingAndGlyphs">η</text>
<text x="1568.0" y="141.4" text-anchor="middle" font-family="Carlito, Calibri, 'Liberation Sans', sans-serif" font-weight="bold" font-size="21.8" fill="#111">[%]</text>
<text x="1162.0" y="175.7" font-family="Carlito, Calibri, 'Liberation Sans', sans-serif" font-weight="bold" font-size="21.7" fill="#111" textLength="90.08" lengthAdjust="spacingAndGlyphs">Reference</text>
<text x="1274.5" y="175.7" font-family="Carlito, Calibri, 'Liberation Sans', sans-serif" font-size="21.3" fill="#111" textLength="48.56" lengthAdjust="spacingAndGlyphs">0.126</text>
<text x="1345.5" y="175.7" font-family="Carlito, Calibri, 'Liberation Sans', sans-serif" font-size="21.3" fill="#111" textLength="37.77" lengthAdjust="spacingAndGlyphs">0.75</text>
<text x="1406.5" y="175.7" font-family="Carlito, Calibri, 'Liberation Sans', sans-serif" font-size="21.3" fill="#111" textLength="37.77" lengthAdjust="spacingAndGlyphs">1.84</text>
<text x="1474.5" y="175.7" font-family="Carlito, Calibri, 'Liberation Sans', sans-serif" font-size="21.3" fill="#111" textLength="48.56" lengthAdjust="spacingAndGlyphs">58.11</text>
<text x="1545.9" y="175.7" font-family="Carlito, Calibri, 'Liberation Sans', sans-serif" font-size="21.3" fill="#111" textLength="37.77" lengthAdjust="spacingAndGlyphs">6.32</text>
<text x="1162.0" y="210.6" font-family="Carlito, Calibri, 'Liberation Sans', sans-serif" font-weight="bold" font-size="21.7" fill="#111" textLength="55.20" lengthAdjust="spacingAndGlyphs">4 cells</text>
<text x="1274.5" y="210.6" font-family="Carlito, Calibri, 'Liberation Sans', sans-serif" font-size="21.3" fill="#111" textLength="37.77" lengthAdjust="spacingAndGlyphs">6.88</text>
<text x="1345.5" y="210.6" font-family="Carlito, Calibri, 'Liberation Sans', sans-serif" font-size="21.3" fill="#111" textLength="37.77" lengthAdjust="spacingAndGlyphs">3.00</text>
<text x="1406.5" y="210.6" font-family="Carlito, Calibri, 'Liberation Sans', sans-serif" font-size="21.3" fill="#111" textLength="48.56" lengthAdjust="spacingAndGlyphs">11.30</text>
<text x="1474.5" y="210.6" font-family="Carlito, Calibri, 'Liberation Sans', sans-serif" font-size="21.3" fill="#111" textLength="48.56" lengthAdjust="spacingAndGlyphs">27.80</text>
<text x="1545.9" y="210.6" font-family="Carlito, Calibri, 'Liberation Sans', sans-serif" font-size="21.3" fill="#111" textLength="37.77" lengthAdjust="spacingAndGlyphs">1.37</text>
<text x="1162.0" y="245.3" font-family="Carlito, Calibri, 'Liberation Sans', sans-serif" font-weight="bold" font-size="21.7" fill="#111" textLength="55.20" lengthAdjust="spacingAndGlyphs">5 cells</text>
<text x="1274.5" y="245.3" font-family="Carlito, Calibri, 'Liberation Sans', sans-serif" font-size="21.3" fill="#111" textLength="37.77" lengthAdjust="spacingAndGlyphs">8.60</text>
<text x="1345.5" y="245.3" font-family="Carlito, Calibri, 'Liberation Sans', sans-serif" font-size="21.3" fill="#111" textLength="37.77" lengthAdjust="spacingAndGlyphs">3.73</text>
<text x="1406.5" y="245.3" font-family="Carlito, Calibri, 'Liberation Sans', sans-serif" font-size="21.3" fill="#111" textLength="48.56" lengthAdjust="spacingAndGlyphs">11.00</text>
<text x="1474.5" y="245.3" font-family="Carlito, Calibri, 'Liberation Sans', sans-serif" font-size="21.3" fill="#111" textLength="48.56" lengthAdjust="spacingAndGlyphs">31.55</text>
<text x="1545.9" y="245.3" font-family="Carlito, Calibri, 'Liberation Sans', sans-serif" font-size="21.3" fill="#111" textLength="37.77" lengthAdjust="spacingAndGlyphs">1.51</text>
<text x="1162.0" y="280.4" font-family="Carlito, Calibri, 'Liberation Sans', sans-serif" font-weight="bold" font-size="21.7" fill="#111" textLength="55.20" lengthAdjust="spacingAndGlyphs">6 cells</text>
<text x="1274.5" y="280.4" font-family="Carlito, Calibri, 'Liberation Sans', sans-serif" font-size="21.3" fill="#111" textLength="48.56" lengthAdjust="spacingAndGlyphs">10.32</text>
<text x="1345.5" y="280.4" font-family="Carlito, Calibri, 'Liberation Sans', sans-serif" font-size="21.3" fill="#111" textLength="37.77" lengthAdjust="spacingAndGlyphs">4.50</text>
<text x="1406.5" y="280.4" font-family="Carlito, Calibri, 'Liberation Sans', sans-serif" font-size="21.3" fill="#111" textLength="37.77" lengthAdjust="spacingAndGlyphs">9.72</text>
<text x="1474.5" y="280.4" font-family="Carlito, Calibri, 'Liberation Sans', sans-serif" font-size="21.3" fill="#111" textLength="48.56" lengthAdjust="spacingAndGlyphs">31.14</text>
<text x="1545.9" y="280.4" font-family="Carlito, Calibri, 'Liberation Sans', sans-serif" font-size="21.3" fill="#111" textLength="37.77" lengthAdjust="spacingAndGlyphs">1.32</text>
</svg></body></html>
